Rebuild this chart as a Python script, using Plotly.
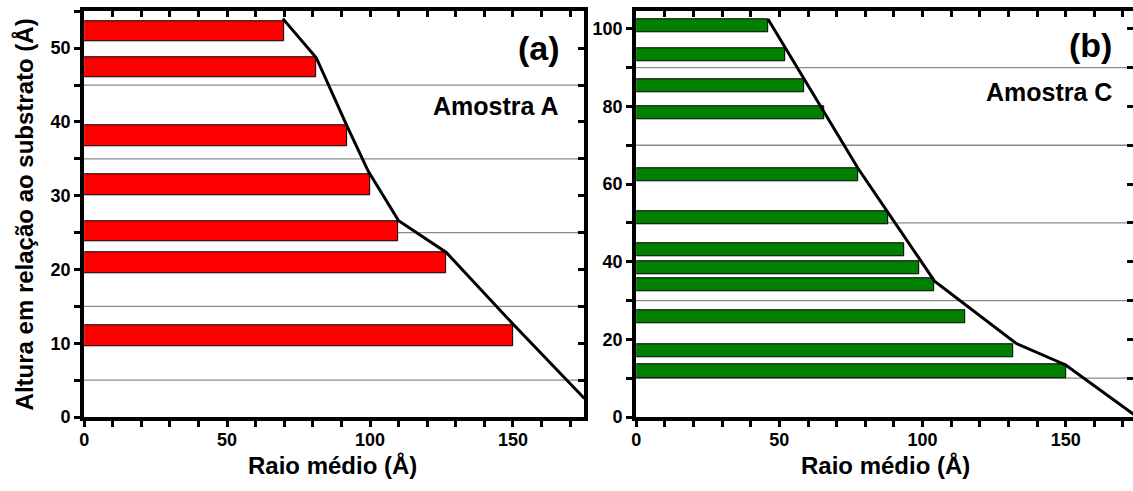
import plotly.graph_objects as go

# Amostra A: average radius per layer and layer height
raio_a = [70, 81, 92, 100, 110, 126.5, 150]
altura_a = [52.3, 47.4, 38.1, 31.5, 25.2, 20.9, 11.0]
envelope_a_x = [69.5, 81.2, 92, 99.4, 110, 126.7, 150, 175]
envelope_a_y = [54.0, 48.7, 39.4, 33.3, 26.6, 22.3, 12.6, 2.5]
grade_a = [5, 15, 25, 35, 45]
ticks_a_x = [0, 50, 100, 150]
ticks_a_y = [0, 10, 20, 30, 40, 50]

# Amostra C
raio_c = [46, 52, 58.5, 65.5, 77.5, 88, 93.5, 99, 104, 115, 131.5, 150]
altura_c = [100.7, 93.2, 85.4, 78.4, 62.4, 51.4, 43.0, 38.5, 34.0, 25.9, 17.0, 11.8]
envelope_c_x = [46, 77.5, 104.2, 132.6, 150, 175]
envelope_c_y = [102.5, 64.0, 35.0, 19.0, 13.4, 0]
grade_c = [10, 30, 50, 70, 90]
ticks_c_x = [0, 50, 100, 150]
ticks_c_y = [0, 20, 40, 60, 80, 100]

W, H = 1133, 491
FONT = "Liberation Sans, Arial, Helvetica, sans-serif"


def px_x(p):
    return p / W


def px_y(p):
    return 1 - p / H


def bold(vals):
    return ["<b>%g</b>" % v for v in vals]


dom_y = [px_y(425.7), px_y(11.5)]
dom_a = [px_x(79.5), px_x(582)]
dom_c = [px_x(634), 1.0]
range_a_x, range_a_y = [0, 175], [0, 55]
range_c_x, range_c_y = [0, 173.5], [0, 104.5]

fig = go.Figure()

fig.add_trace(go.Bar(x=raio_a, y=altura_a, orientation="h", width=2.8,
                     marker=dict(color="#ff0000", line=dict(color="#000000", width=1)),
                     xaxis="x", yaxis="y", showlegend=False))
fig.add_trace(go.Scatter(x=envelope_a_x, y=envelope_a_y, mode="lines",
                         line=dict(color="black", width=3),
                         xaxis="x", yaxis="y", showlegend=False))

fig.add_trace(go.Bar(x=raio_c, y=altura_c, orientation="h", width=3.4,
                     marker=dict(color="#007f00", line=dict(color="#000000", width=1)),
                     xaxis="x2", yaxis="y2", showlegend=False))
fig.add_trace(go.Scatter(x=envelope_c_x, y=envelope_c_y, mode="lines",
                         line=dict(color="black", width=3),
                         xaxis="x2", yaxis="y2", showlegend=False))

# placeholder traces so the mirrored frame axes (top / right) get drawn
for xa, ya in [("x3", "y"), ("x", "y3"), ("x4", "y2"), ("x2", "y4")]:
    fig.add_trace(go.Scatter(x=[None], y=[None], xaxis=xa, yaxis=ya,
                             showlegend=False, hoverinfo="skip"))


def axis(dom, rng, anchor, vals, minor_step, standoff):
    return dict(
        domain=dom, range=rng, anchor=anchor,
        showline=True, linewidth=4, linecolor="black",
        showgrid=False, zeroline=False,
        ticks="outside", ticklen=6, tickwidth=3, tickcolor="black",
        tickmode="array", tickvals=vals, ticktext=bold(vals),
        tickfont=dict(family=FONT, size=18, color="black"),
        ticklabelstandoff=standoff,
        minor=dict(tickmode="linear", tick0=0, dtick=minor_step, ticks="outside",
                   ticklen=6, tickwidth=3, tickcolor="black", showgrid=False),
    )


def frame(dom, rng, anchor, over, side, step):
    return dict(
        domain=dom, range=rng, anchor=anchor, overlaying=over, side=side,
        showline=True, linewidth=4, linecolor="black",
        showgrid=False, zeroline=False, showticklabels=False,
        ticks="inside", ticklen=6, tickwidth=3, tickcolor="black",
        tickmode="linear", tick0=0, dtick=step,
    )


fig.update_layout(
    width=W, height=H,
    margin=dict(l=0, r=0, t=0, b=0),
    paper_bgcolor="white", plot_bgcolor="white",
    font=dict(family=FONT, size=18, color="black"),
    bargap=0,
    xaxis=axis(dom_a, range_a_x, "y", ticks_a_x, 10, -3),
    yaxis=axis(dom_y, range_a_y, "x", ticks_a_y, 5, 0),
    xaxis2=axis(dom_c, range_c_x, "y2", ticks_c_x, 10, -3),
    yaxis2=axis(dom_y, range_c_y, "x2", ticks_c_y, 10, 0),
    xaxis3=frame(dom_a, range_a_x, "y", "x", "top", 10),
    yaxis3=frame(dom_y, range_a_y, "x", "y", "right", 5),
    xaxis4=frame(dom_c, range_c_x, "y2", "x2", "top", 10),
    yaxis4=frame(dom_y, range_c_y, "x2", "y2", "right", 10),
)

# horizontal reference lines
for g in grade_a:
    fig.add_shape(type="line", xref="x domain", yref="y", x0=0, x1=1, y0=g, y1=g,
                  line=dict(color="#8a8a8a", width=1.3), layer="below")
for g in grade_c:
    fig.add_shape(type="line", xref="x2 domain", yref="y2", x0=0, x1=1, y0=g, y1=g,
                  line=dict(color="#8a8a8a", width=1.3), layer="below")

big = dict(family=FONT, size=34, color="black")
mid = dict(family=FONT, size=25, color="black")
title = dict(family=FONT, size=24, color="black")

fig.add_annotation(x=167.1, y=50, xref="x", yref="y", text="<b>(a)</b>", showarrow=False,
                   xanchor="right", yanchor="middle", font=big)
fig.add_annotation(x=166.7, y=42.2, xref="x", yref="y", text="<b>Amostra A</b>",
                   showarrow=False, xanchor="right", yanchor="middle", font=mid)
fig.add_annotation(x=166.8, y=95.8, xref="x2", yref="y2", text="<b>(b)</b>", showarrow=False,
                   xanchor="right", yanchor="middle", font=big)
fig.add_annotation(x=166.8, y=83.7, xref="x2", yref="y2", text="<b>Amostra C</b>",
                   showarrow=False, xanchor="right", yanchor="middle", font=mid)

fig.add_annotation(x=px_x(329), y=px_y(475), xref="paper", yref="paper",
                   text="<b>Raio médio (Å)</b>", showarrow=False,
                   xanchor="center", yanchor="middle", font=title)
fig.add_annotation(x=px_x(884), y=px_y(475), xref="paper", yref="paper",
                   text="<b>Raio médio (Å)</b>", showarrow=False,
                   xanchor="center", yanchor="middle", font=title)
fig.add_annotation(x=px_x(20), y=px_y(219), xref="paper", yref="paper",
                   text="<b>Altura em relação ao substrato (Å)</b>", showarrow=False,
                   textangle=-90, xanchor="center", yanchor="middle", font=title)

fig.write_html("out.html")
